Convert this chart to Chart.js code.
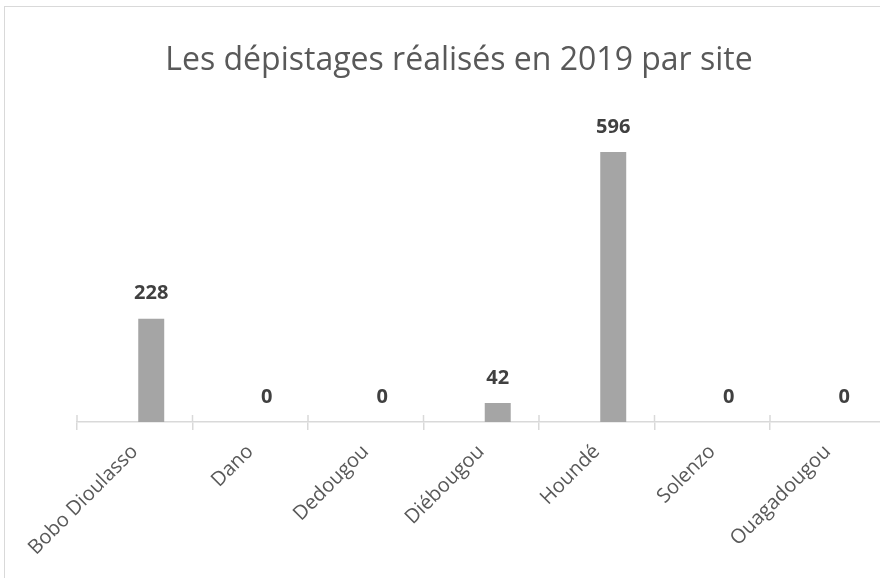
<!DOCTYPE html>
<html>
<head>
<meta charset="utf-8">
<script src="https://cdn.jsdelivr.net/npm/chart.js@4.4.0/dist/chart.umd.min.js"></script>
<style>
    html, body { margin: 0; padding: 0; background: #fff; overflow: hidden; width: 880px; height: 578px; }
    #frame { position: absolute; left: 4px; top: 6px; border-left: 1px solid #d9d9d9; border-top: 1px solid #d9d9d9; }
    canvas { display: block; }
</style>
</head>
<body>
<div id="frame"><canvas id="chart" width="908" height="600"></canvas></div>
<script>
// ==================== DATA ====================
const titleText = 'Les dépistages réalisés en 2019 par site';
const sites = ['Bobo Dioulasso', 'Dano', 'Dedougou', 'Diébougou', 'Houndé', 'Solenzo', 'Ouagadougou'];
const depistages = [228, 0, 0, 42, 596, 0, 0];
const emptySeries = [null, null, null, null, null, null, null];
const yMin = 0, yMax = 700;

const FONT = "'Open Sans', 'Liberation Sans', sans-serif";

// title centred on the whole chart frame (layout padding would shift the built-in one)
const frameTitle = {
    id: 'frameTitle',
    afterDraw(chart) {
        const ctx = chart.ctx;
        ctx.save();
        ctx.font = '32px ' + FONT;
        ctx.fillStyle = '#595959';
        ctx.textAlign = 'center';
        ctx.textBaseline = 'middle';
        ctx.fillText(titleText, chart.width / 2, 54);
        ctx.restore();
    }
};

// data labels above the bars (no datalabels plugin offline)
const barLabels = {
    id: 'barLabels',
    afterDatasetsDraw(chart) {
        const ctx = chart.ctx;
        const meta = chart.getDatasetMeta(1);
        ctx.save();
        ctx.font = 'bold 20px ' + FONT;
        ctx.fillStyle = '#404040';
        ctx.textAlign = 'center';
        ctx.textBaseline = 'middle';
        meta.data.forEach((bar, i) => {
            ctx.fillText(String(depistages[i]), bar.x, bar.y - 25);
        });
        ctx.restore();
    }
};

// excel style "cross" tick marks: part above the axis line
const crossTicks = {
    id: 'crossTicks',
    afterDraw(chart) {
        const xs = chart.scales.x;
        const ctx = chart.ctx;
        const half = (xs.getPixelForTick(1) - xs.getPixelForTick(0)) / 2;
        ctx.save();
        ctx.strokeStyle = '#d9d9d9';
        ctx.lineWidth = 1.5;
        ctx.beginPath();
        for (let i = 0; i <= sites.length; i++) {
            const x = xs.getPixelForTick(0) - half + i * half * 2;
            ctx.moveTo(x, xs.top - 7);
            ctx.lineTo(x, xs.top);
        }
        ctx.stroke();
        ctx.restore();
    }
};

new Chart(document.getElementById('chart').getContext('2d'), {
    type: 'bar',
    data: {
        labels: sites,
        datasets: [{
            label: '',
            data: emptySeries,
            backgroundColor: 'rgba(0,0,0,0)'
        }, {
            label: 'Dépistages',
            data: depistages,
            backgroundColor: '#a5a5a5',
            borderWidth: 0
        }]
    },
    options: {
        responsive: false,
        animation: false,
        devicePixelRatio: 1,
        categoryPercentage: 0.571,
        barPercentage: 0.788,
        layout: { padding: { left: 72, right: 27.5, top: 98, bottom: 0 } },
        plugins: {
            legend: { display: false },
            tooltip: { enabled: false },
            title: { display: false }
        },
        scales: {
            x: {
                afterFit(scale) { scale.height = 185; },
                grid: {
                    offset: true,
                    drawOnChartArea: false,
                    drawTicks: true,
                    tickLength: 8,
                    color: '#d9d9d9',
                    tickColor: '#d9d9d9',
                    lineWidth: 1.5
                },
                border: { display: true, color: '#d9d9d9', width: 1.5 },
                ticks: {
                    autoSkip: false,
                    maxRotation: 45,
                    minRotation: 45,
                    padding: 10,
                    color: '#595959',
                    font: { family: FONT, size: 20 }
                }
            },
            y: {
                display: false,
                min: yMin,
                max: yMax
            }
        }
    },
    plugins: [frameTitle, barLabels, crossTicks]
});
</script>
</body>
</html>
